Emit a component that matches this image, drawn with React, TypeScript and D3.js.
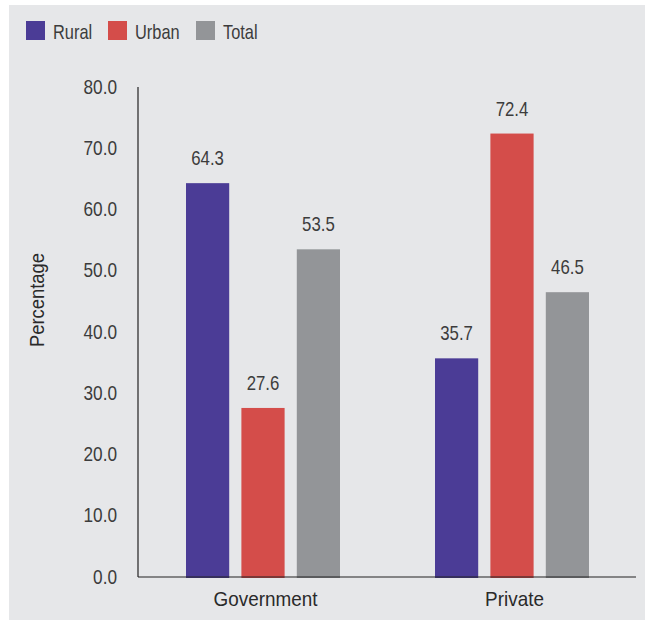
import React from "react";
import * as d3 from "d3";

const categories = ["Government", "Private"];
const seriesNames = ["Rural", "Urban", "Total"];
const rural = [64.3, 35.7];
const urban = [27.6, 72.4];
const total = [53.5, 46.5];
const yTicks = [0, 10, 20, 30, 40, 50, 60, 70, 80];
const colors = ["#4b3c96", "#d44d4a", "#939598"];

const FONT = "'Liberation Sans', Arial, sans-serif";

type TProps = {
  x: number;
  y: number;
  size: number;
  sx: number;
  anchor?: "start" | "middle" | "end";
  rotate?: number;
  fill?: string;
  children: React.ReactNode;
};

function T({ x, y, size, sx, anchor = "start", rotate = 0, fill = "#3c3c3c", children }: TProps) {
  return (
    <text
      transform={`translate(${x},${y}) rotate(${rotate}) scale(${sx},1)`}
      fontSize={size}
      textAnchor={anchor}
      fill={fill}
    >
      {children}
    </text>
  );
}

export default function App() {
  const W = 645, H = 621;
  const left = 138, right = 636, top = 87, bottom = 577;
  const y = d3.scaleLinear().domain([0, 80]).range([bottom, top]);
  const x0 = d3.scaleBand().domain(categories).range([left, right]).paddingInner(0).paddingOuter(0);
  const groupW = 154;
  const x1 = d3.scaleBand().domain(seriesNames).range([0, groupW]).paddingInner(0.22).paddingOuter(0);
  const series = [rural, urban, total];
  const legendX = [26, 108, 196];
  return (
    <svg width={W} height={H} style={{ position: "absolute", left: 0, top: 0, fontFamily: FONT }}>
      <rect x={0} y={0} width={W} height={H} fill="#ffffff" />
      <rect x={9} y={5} width={W - 9} height={615} fill="#e6e7e9" />
      {seriesNames.map((s, i) => (
        <g key={s}>
          <rect x={legendX[i]} y={21} width={19} height={19} fill={colors[i]} />
          <T x={legendX[i] + 27} y={39} size={20} sx={0.82}>{s}</T>
        </g>
      ))}
      {yTicks.map((t) => (
        <T key={t} x={117} y={y(t) + 6.5} size={21} sx={0.82} anchor="end">
          {t.toFixed(1)}
        </T>
      ))}
      <T x={44} y={300} size={20} sx={0.92} anchor="middle" rotate={-90} fill="#2a2a2a">
        Percentage
      </T>
      {categories.map((c, ci) => {
        const gx = x0(c)! + (x0.bandwidth() - groupW) / 2 + 0.5;
        return (
          <g key={c}>
            {seriesNames.map((s, si) => {
              const v = series[si][ci];
              const bx = gx + x1(s)!;
              return (
                <g key={s}>
                  <rect x={bx} y={y(v)} width={x1.bandwidth()} height={bottom - y(v) + 1} fill={colors[si]} />
                  <T x={bx + x1.bandwidth() / 2} y={y(v) - 18} size={20} sx={0.84} anchor="middle">
                    {v.toFixed(1)}
                  </T>
                </g>
              );
            })}
            <T x={x0(c)! + x0.bandwidth() / 2 + 3} y={606} size={21} sx={0.9} anchor="middle" fill="#2a2a2a">
              {c}
            </T>
          </g>
        );
      })}
      <line x1={left} x2={left} y1={top} y2={bottom} stroke="#222" strokeWidth={1.2} />
      <line x1={left} x2={right} y1={bottom} y2={bottom} stroke="#222" strokeWidth={1.2} />
    </svg>
  );
}
